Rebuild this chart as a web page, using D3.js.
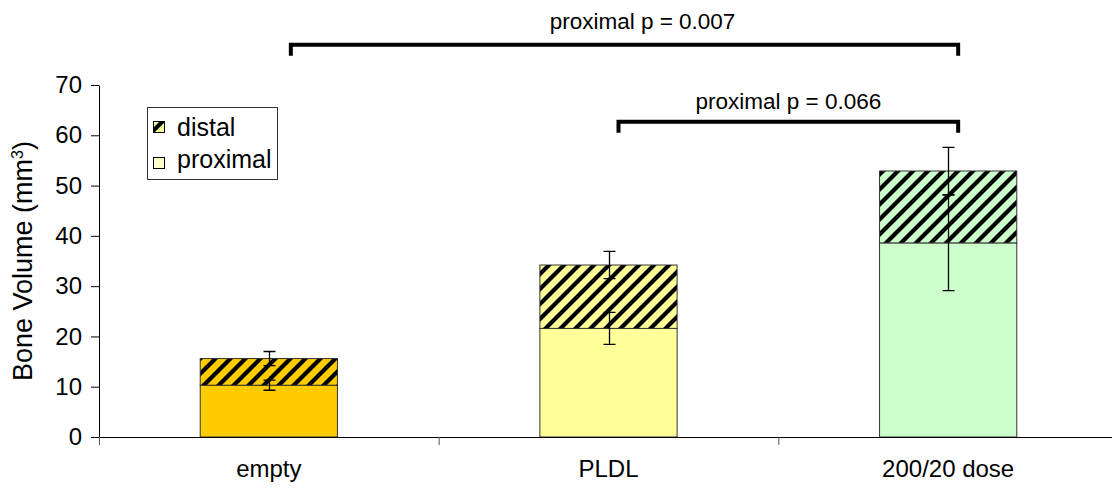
<!DOCTYPE html>
<html>
<head>
<meta charset="utf-8">
<script src="https://cdn.jsdelivr.net/npm/d3@7"></script>
<style>
  body { margin: 0; background: #fff; }
  svg { display: block; font-family: "Liberation Sans", Arial, sans-serif; }
</style>
</head>
<body>
<svg width="1112" height="489"></svg>
<script>
// data
const groups = ["empty", "PLDL", "200/20 dose"];
const proximal = [10.3, 21.6, 38.6];
const distal = [5.3, 12.6, 14.3];          // stacked on top of proximal
const proximalErr = [1.0, 3.2, 9.5];
const totalErr = [1.4, 2.7, 4.7];
const fills = ["#FFCC00", "#FFFF99", "#CCFFCC"];
const yTicks = [0, 10, 20, 30, 40, 50, 60, 70];

const brackets = [
  { from: 0, to: 2, level: 78, label: "proximal p = 0.007" },
  { from: 1, to: 2, level: 62.7, label: "proximal p = 0.066" }
];

const svg = d3.select("svg");
const margin = { top: 85, right: -6, bottom: 52, left: 99 };
const width = +svg.attr("width");
const height = +svg.attr("height");
const innerWidth = width - margin.left - margin.right;
const innerHeight = height - margin.top - margin.bottom;

const x = d3.scaleBand().domain(groups).range([0, innerWidth]).paddingInner(0).paddingOuter(0);
const y = d3.scaleLinear().domain([0, 70]).range([innerHeight, 0]);
const barW = x.bandwidth() * 0.404;

// hatch patterns, one per bar colour
const defs = svg.append("defs");
const hatch = (id, bg) => {
  const p = defs.append("pattern")
    .attr("id", id)
    .attr("patternUnits", "userSpaceOnUse")
    .attr("width", 15).attr("height", 15);
  p.append("rect").attr("width", 15).attr("height", 15).attr("fill", bg);
  p.append("path")
    .attr("d", "M-4,19 L19,-4 M-4,4 L4,-4 M11,19 L19,11")
    .attr("stroke", "#000").attr("stroke-width", 4.2);
};
fills.forEach((c, i) => hatch("hatch" + i, c));
hatch("hatchLegend", "#FFFF99");

const g = svg.append("g").attr("transform", `translate(${margin.left},${margin.top})`);

// bars
const bar = g.selectAll(".bar").data(groups).enter().append("g").attr("class", "bar");
bar.append("rect")
  .attr("x", d => x(d) + (x.bandwidth() - barW) / 2)
  .attr("y", (d, i) => y(proximal[i]))
  .attr("width", barW)
  .attr("height", (d, i) => y(0) - y(proximal[i]))
  .attr("fill", (d, i) => fills[i])
  .attr("stroke", "#333").attr("stroke-width", 1);
bar.append("rect")
  .attr("x", d => x(d) + (x.bandwidth() - barW) / 2)
  .attr("y", (d, i) => y(proximal[i] + distal[i]))
  .attr("width", barW)
  .attr("height", (d, i) => y(proximal[i]) - y(proximal[i] + distal[i]))
  .attr("fill", (d, i) => `url(#hatch${i})`)
  .attr("stroke", "#333").attr("stroke-width", 1);

// error bars
const errBar = (val, err) => {
  g.selectAll(null).data(groups).enter().append("path")
    .attr("d", (d, i) => {
      const cx = Math.round(x(d) + x.bandwidth() / 2) + 0.5;
      const t = y(val(i) + err[i]), b = y(val(i) - err[i]);
      return `M${cx},${t}V${b}M${cx - 6},${t}H${cx + 6}M${cx - 6},${b}H${cx + 6}`;
    })
    .attr("fill", "none").attr("stroke", "#000").attr("stroke-width", 1.3);
};
errBar(i => proximal[i], proximalErr);
errBar(i => proximal[i] + distal[i], totalErr);

// axes
const yAxis = g.append("g")
  .call(d3.axisLeft(y).tickValues(yTicks).tickSize(8).tickPadding(9));
yAxis.attr("font-size", null).attr("font-family", null);
yAxis.select(".domain").attr("d", `M0.5,${innerHeight}V0.5`);
yAxis.selectAll("text").attr("fill", "#000").style("font-size", "24px");

const xAxisG = g.append("g").attr("transform", `translate(0,${innerHeight})`);
xAxisG.append("line").attr("x1", 0).attr("x2", innerWidth).attr("y1", 0.5).attr("y2", 0.5).attr("stroke", "#000");
xAxisG.selectAll(".xt").data(groups).enter().append("line")
  .attr("x1", d => x(d) + 0.5).attr("x2", d => x(d) + 0.5)
  .attr("y1", 0).attr("y2", 8).attr("stroke", "#555");
xAxisG.selectAll(".xl").data(groups).enter().append("text")
  .attr("x", d => x(d) + x.bandwidth() / 2)
  .attr("y", 40)
  .attr("text-anchor", "middle")
  .attr("font-size", 24)
  .text(d => d);

// y axis title
g.append("text")
  .attr("transform", `translate(${-67},${innerHeight / 2}) rotate(-90)`)
  .attr("text-anchor", "middle")
  .attr("font-size", 27)
  .html('Bone Volume (mm<tspan dy="-9" font-size="16">3</tspan><tspan dy="9">)</tspan>');

// significance brackets
brackets.forEach((b, k) => {
  const x0 = x(groups[b.from]) + x.bandwidth() / 2 + (k === 0 ? 22 : 10);
  const x1 = x(groups[b.to]) + x.bandwidth() / 2 + 10;
  const yy = y(b.level);
  g.append("path")
    .attr("d", `M${x0},${yy + 11}V${yy}H${x1}V${yy + 11}`)
    .attr("fill", "none").attr("stroke", "#000").attr("stroke-width", 4);
  g.append("text")
    .attr("x", (x0 + x1) / 2 + (k === 0 ? 18 : 0))
    .attr("y", yy - (k === 0 ? 16 : 13))
    .attr("text-anchor", "middle")
    .attr("font-size", 22.5)
    .text(b.label);
});

// legend
const lg = svg.append("g").attr("transform", "translate(147,107)");
lg.append("rect").attr("x", 0.5).attr("y", 0.5).attr("width", 130).attr("height", 72)
  .attr("fill", "#fff").attr("stroke", "#333");
const legendItems = [
  { label: "distal", fill: "url(#hatchLegend)" },
  { label: "proximal", fill: "#FFFFCC" }
];
legendItems.forEach((d, i) => {
  lg.append("rect").attr("x", 6.5).attr("y", 14.5 + i * 36).attr("width", 11).attr("height", 11)
    .attr("fill", d.fill).attr("stroke", "#000");
  lg.append("text").attr("x", 30).attr("y", 29 + i * 32).attr("font-size", 25).text(d.label);
});
</script>
</body>
</html>
